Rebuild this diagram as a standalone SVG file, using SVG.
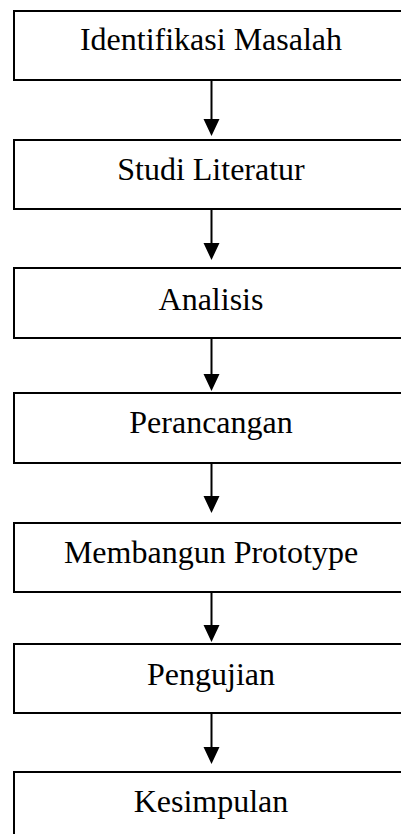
<svg xmlns="http://www.w3.org/2000/svg" width="401" height="834" viewBox="0 0 401 834">
<style>
.box{fill:#fff;stroke:#000;stroke-width:2}
.lbl{font-family:"Liberation Serif","Times New Roman",serif;font-size:32px;fill:#000;text-anchor:middle}
.conn{stroke:#000;stroke-width:2;fill:none}
.head{fill:#000}
</style>
<rect width="401" height="834" fill="#fff"/>
<g id="n1"><rect class="box" x="14" y="11" width="394" height="69"/><text class="lbl" x="211" y="50">Identifikasi Masalah</text></g>
<g id="n2"><rect class="box" x="14" y="140" width="394" height="69"/><text class="lbl" x="211" y="180">Studi Literatur</text></g>
<g id="n3"><rect class="box" x="14" y="268" width="394" height="70"/><text class="lbl" x="211" y="310">Analisis</text></g>
<g id="n4"><rect class="box" x="14" y="393" width="394" height="70"/><text class="lbl" x="211" y="433">Perancangan</text></g>
<g id="n5"><rect class="box" x="14" y="523" width="394" height="69"/><text class="lbl" x="211" y="563">Membangun Prototype</text></g>
<g id="n6"><rect class="box" x="14" y="644" width="394" height="69"/><text class="lbl" x="211" y="685">Pengujian</text></g>
<g id="n7"><rect class="box" x="14" y="772" width="394" height="80"/><text class="lbl" x="211" y="812">Kesimpulan</text></g>
<g id="connectors">
<path class="conn" d="M211.5 80V120"/><path class="head" d="M203.5 119H219.5L211.5 136Z"/>
<path class="conn" d="M211.5 209V244"/><path class="head" d="M203.5 243H219.5L211.5 260Z"/>
<path class="conn" d="M211.5 338V375"/><path class="head" d="M203.5 374H219.5L211.5 391Z"/>
<path class="conn" d="M211.5 463V497"/><path class="head" d="M203.5 496H219.5L211.5 513Z"/>
<path class="conn" d="M211.5 592V626"/><path class="head" d="M203.5 625H219.5L211.5 642Z"/>
<path class="conn" d="M211.5 713V748"/><path class="head" d="M203.5 747H219.5L211.5 764Z"/>
</g>
</svg>
